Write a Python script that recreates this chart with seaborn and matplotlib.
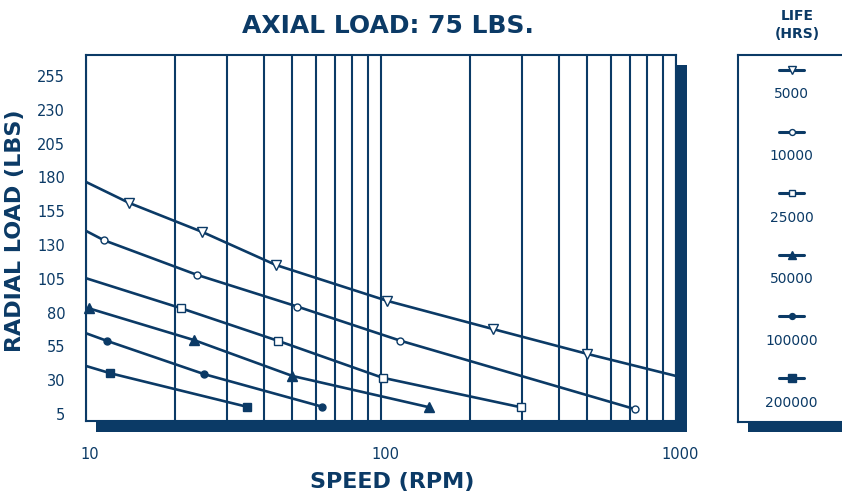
import matplotlib.pyplot as plt
import matplotlib.ticker as mticker
from matplotlib.patches import Rectangle
from matplotlib.transforms import ScaledTranslation
import seaborn as sns

sns.set_style('white')
plt.rcParams['font.family'] = ['DejaVu Sans']

NAVY = '#0b3a66'
W, H = 842, 493

LIFE = ['5000', '10000', '25000', '50000', '100000', '200000']

# marked points of each life curve (speed in rpm, radial load in lbs)
SPEED_5000 = [14.0, 24.8, 44.0, 105.2, 238.9, 501.0]
LOAD_5000 = [161.1, 139.6, 115.2, 88.6, 67.9, 49.4]
SPEED_10000 = [11.5, 23.7, 52.1, 116.3, 728.0]
LOAD_10000 = [133.5, 108.0, 84.4, 59.2, 8.5]
SPEED_25000 = [21.0, 44.9, 101.2, 297.3]
LOAD_25000 = [83.2, 59.0, 31.8, 10.0]
SPEED_50000 = [10.2, 23.2, 50.1, 145.4]
LOAD_50000 = [83.2, 59.7, 33.1, 10.0]
SPEED_100000 = [11.8, 25.2, 63.1]
LOAD_100000 = [59.0, 34.4, 10.4]
SPEED_200000 = [12.1, 35.0]
LOAD_200000 = [35.1, 10.4]

# load where a curve enters at 10 rpm (None = starts at its first marker)
LOAD_AT_10 = [176.6, 140.4, 105.4, None, 64.7, 40.5]
# 5000 hr curve runs out to the right frame at 1000 rpm
LOAD_5000_AT_1000 = 33.1

SPEEDS = [SPEED_5000, SPEED_10000, SPEED_25000, SPEED_50000, SPEED_100000, SPEED_200000]
LOADS = [LOAD_5000, LOAD_10000, LOAD_25000, LOAD_50000, LOAD_100000, LOAD_200000]

# marker, face colour, size
STYLE = [('v', 'white', 7.2), ('o', 'white', 5), ('s', 'white', 5.8),
         ('^', NAVY, 7.2), ('o', NAVY, 5), ('s', NAVY, 6.2)]


def box(x0, y0, x1, y1):
    return [x0 / W, 1 - y1 / H, (x1 - x0) / W, (y1 - y0) / H]


fig = plt.figure(figsize=(W / 100, H / 100), dpi=100, facecolor='white')

# drop shadows behind the plot frame and the legend frame
for x0, y0, x1, y1 in [(96, 65, 687, 432), (748, 65, 860, 432)]:
    b = box(x0, y0, x1, y1)
    fig.add_artist(Rectangle((b[0], b[1]), b[2], b[3], transform=fig.transFigure,
                             facecolor=NAVY, edgecolor='none', zorder=0))

ax = fig.add_axes(box(86, 55, 676, 421), zorder=1)
ax.set_facecolor('white')
ax.set_xscale('log')
ax.set_xlim(10, 1000)
ax.set_ylim(-0.2, 270.5)

ax.set_xticks([10, 100, 1000], labels=['10', '100', '1000'])
ax.xaxis.set_minor_locator(mticker.LogLocator(base=10, subs=range(2, 10)))
ax.xaxis.set_minor_formatter(mticker.NullFormatter())
ax.set_yticks(range(5, 256, 25))
ax.grid(which='both', axis='x', color=NAVY, lw=1.5)
ax.set_axisbelow(True)
ax.tick_params(axis='both', which='both', length=0, colors=NAVY, labelsize=10.5)
ax.tick_params(axis='x', pad=19)
ax.tick_params(axis='y', pad=15)
shift = ScaledTranslation(4 / 100, 0, fig.dpi_scale_trans)
for lab in ax.get_xticklabels():
    lab.set_transform(lab.get_transform() + shift)
for s in ax.spines.values():
    s.set_color(NAVY)
    s.set_linewidth(1.5)

for i, life in enumerate(LIFE):
    lx = list(SPEEDS[i])
    ly = list(LOADS[i])
    if LOAD_AT_10[i] is not None:
        lx = [10] + lx
        ly = [LOAD_AT_10[i]] + ly
    if life == '5000':
        lx = lx + [1000]
        ly = ly + [LOAD_5000_AT_1000]
    sns.lineplot(x=lx, y=ly, ax=ax, color=NAVY, lw=1.9, sort=False,
                 estimator=None, zorder=3)
    m, fc, ms = STYLE[i]
    ax.plot(SPEEDS[i], LOADS[i], ls='none', marker=m, ms=ms, mfc=fc, mec=NAVY,
            mew=1, zorder=4, clip_on=False)

ax.set_xlabel('SPEED (RPM)', fontsize=16, fontweight='bold', color=NAVY)
ax.xaxis.label.set_va('center')
ax.xaxis.set_label_coords(0.519, -0.167)
ax.set_ylabel('RADIAL LOAD (LBS)', fontsize=16, fontweight='bold', color=NAVY)
ax.yaxis.label.set_va('center')
ax.yaxis.set_label_coords(-0.12, 0.519)

fig.suptitle('AXIAL LOAD: 75 LBS.', x=388 / W, y=1 - 26 / H, va='center',
             fontsize=18, fontweight='bold', color=NAVY)

# legend panel
lax = fig.add_axes(box(738, 55, 860, 422), zorder=1)
lax.set_facecolor('white')
lax.set_xlim(738, 860)
lax.set_ylim(422, 55)
lax.set_xticks([])
lax.set_yticks([])
for s in lax.spines.values():
    s.set_color(NAVY)
    s.set_linewidth(1.5)

for i, life in enumerate(LIFE):
    m, fc, ms = STYLE[i]
    y = 70 + 61.6 * i
    lax.plot([779, 791.5, 804], [y, y, y], color=NAVY, lw=2.2, marker=m,
             markevery=[1], ms=ms * 0.85, mfc=fc, mec=NAVY, mew=1)
    lax.text(791.5, y + 24.5, life, ha='center', va='center', fontsize=10,
             color=NAVY)

fig.text(797 / W, 1 - 25 / H, 'LIFE\n(HRS)', ha='center', va='center',
         fontsize=10, fontweight='bold', color=NAVY, linespacing=1.3)

fig.savefig('out.png', dpi=100)
